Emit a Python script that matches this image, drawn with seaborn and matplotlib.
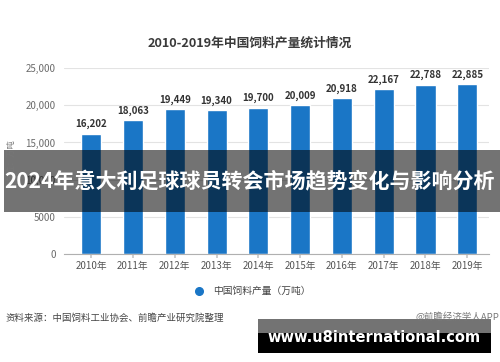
import matplotlib
matplotlib.use("Agg")
import matplotlib.pyplot as plt
from matplotlib.patches import Rectangle
from matplotlib.lines import Line2D
import seaborn as sns
import pandas as pd

sns.set_theme(style="white")
plt.rcParams['font.family'] = ['Noto Sans CJK SC', 'DejaVu Sans']

# data
years = ["2010年", "2011年", "2012年", "2013年", "2014年",
         "2015年", "2016年", "2017年", "2018年", "2019年"]
output = [16202, 18063, 19449, 19340, 19700, 20009, 20918, 22167, 22788, 22885]
y_ticks = [0, 5000, 10000, 15000, 20000, 25000]
y_tick_labels = ["0", "5000", "10,000", "15,000", "20,000", "25,000"]

title = "2010-2019年中国饲料产量统计情况"
series_name = "中国饲料产量（万吨）"
unit = "单位：万吨"
source = "资料来源：中国饲料工业协会、前瞻产业研究院整理"
credit = "@前瞻经济学人APP"
banner = "2024年意大利足球球员转会市场趋势变化与影响分析"
site = "www.u8international.com"

blue = "#1a76c6"
df = pd.DataFrame({"year": years, "output": output})

fig = plt.figure(figsize=(5, 3.62), dpi=100)
ax = fig.add_axes([0.128, 0.298, 0.85, 0.514])

sns.barplot(data=df, x="year", y="output", color=blue, width=0.48,
            saturation=1, ax=ax)
ax.bar_label(ax.containers[0], labels=[f"{v:,}" for v in output],
             padding=3, fontsize=7, fontweight="bold", color="#333333")

ax.set_xlim(-0.65, 9.52)
ax.set_ylim(0, 25000)
ax.set_yticks(y_ticks)
ax.set_yticklabels(y_tick_labels)
ax.yaxis.grid(True, color="#e3e3e3", linewidth=0.8)
ax.set_axisbelow(True)
for s in ["top", "right", "left"]:
    ax.spines[s].set_visible(False)
ax.spines["bottom"].set_color("#b0b0b0")
ax.spines["bottom"].set_linewidth(0.8)
ax.tick_params(axis="y", length=0, labelsize=7, labelcolor="#6b6b6b", pad=6)
ax.tick_params(axis="x", length=3, color="#c8c8c8", labelsize=7,
               labelcolor="#555555", pad=2, bottom=True)
ax.set_xlabel("")
ax.set_ylabel("")

fig.text(0.5, 1 - 43 / 362, title, ha="center", va="center",
         fontsize=9.2, fontweight="bold", color="#3a3a3a")
fig.text(0.022, 1 - 160 / 362, unit, rotation=90, ha="center", va="center",
         fontsize=6, color="#777777")

handle = Line2D([], [], marker="o", ls="", color=blue, markersize=5.5)
fig.legend(handles=[handle], labels=[series_name], loc="center",
           bbox_to_anchor=(0.5, 1 - 291 / 362), frameon=False,
           fontsize=7, handletextpad=0.4, labelcolor="#444444")

fig.text(0.01, 1 - 318 / 362, source, ha="left", va="center",
         fontsize=6.8, color="#444444")
fig.text(0.998, 1 - 317 / 362, credit, ha="right", va="center",
         fontsize=6.8, color="#777777")

# overlay banner
fig.add_artist(Rectangle((4 / 500, 1 - 212 / 362), 496 / 500, 62 / 362,
                         transform=fig.transFigure, facecolor="black",
                         alpha=0.55, edgecolor="none"))
fig.text(0.5, 1 - 182 / 362, banner, ha="center", va="center",
         fontsize=15.1, fontweight="bold", color="white")

# site box
fig.add_artist(Rectangle((258 / 500, 1 - 333 / 362), 233 / 500, 14 / 362,
                         transform=fig.transFigure, facecolor="black",
                         alpha=0.55, edgecolor="none"))
fig.add_artist(Rectangle((258 / 500, 1 - 353 / 362), 233 / 500, 20 / 362,
                         transform=fig.transFigure, facecolor="black",
                         edgecolor="none"))
fig.text(374 / 500, 1 - 337 / 362, site, ha="center", va="center",
         fontsize=10.5, fontweight="bold", color="white", family="DejaVu Sans")

fig.savefig("out.png", dpi=100, facecolor="white")
